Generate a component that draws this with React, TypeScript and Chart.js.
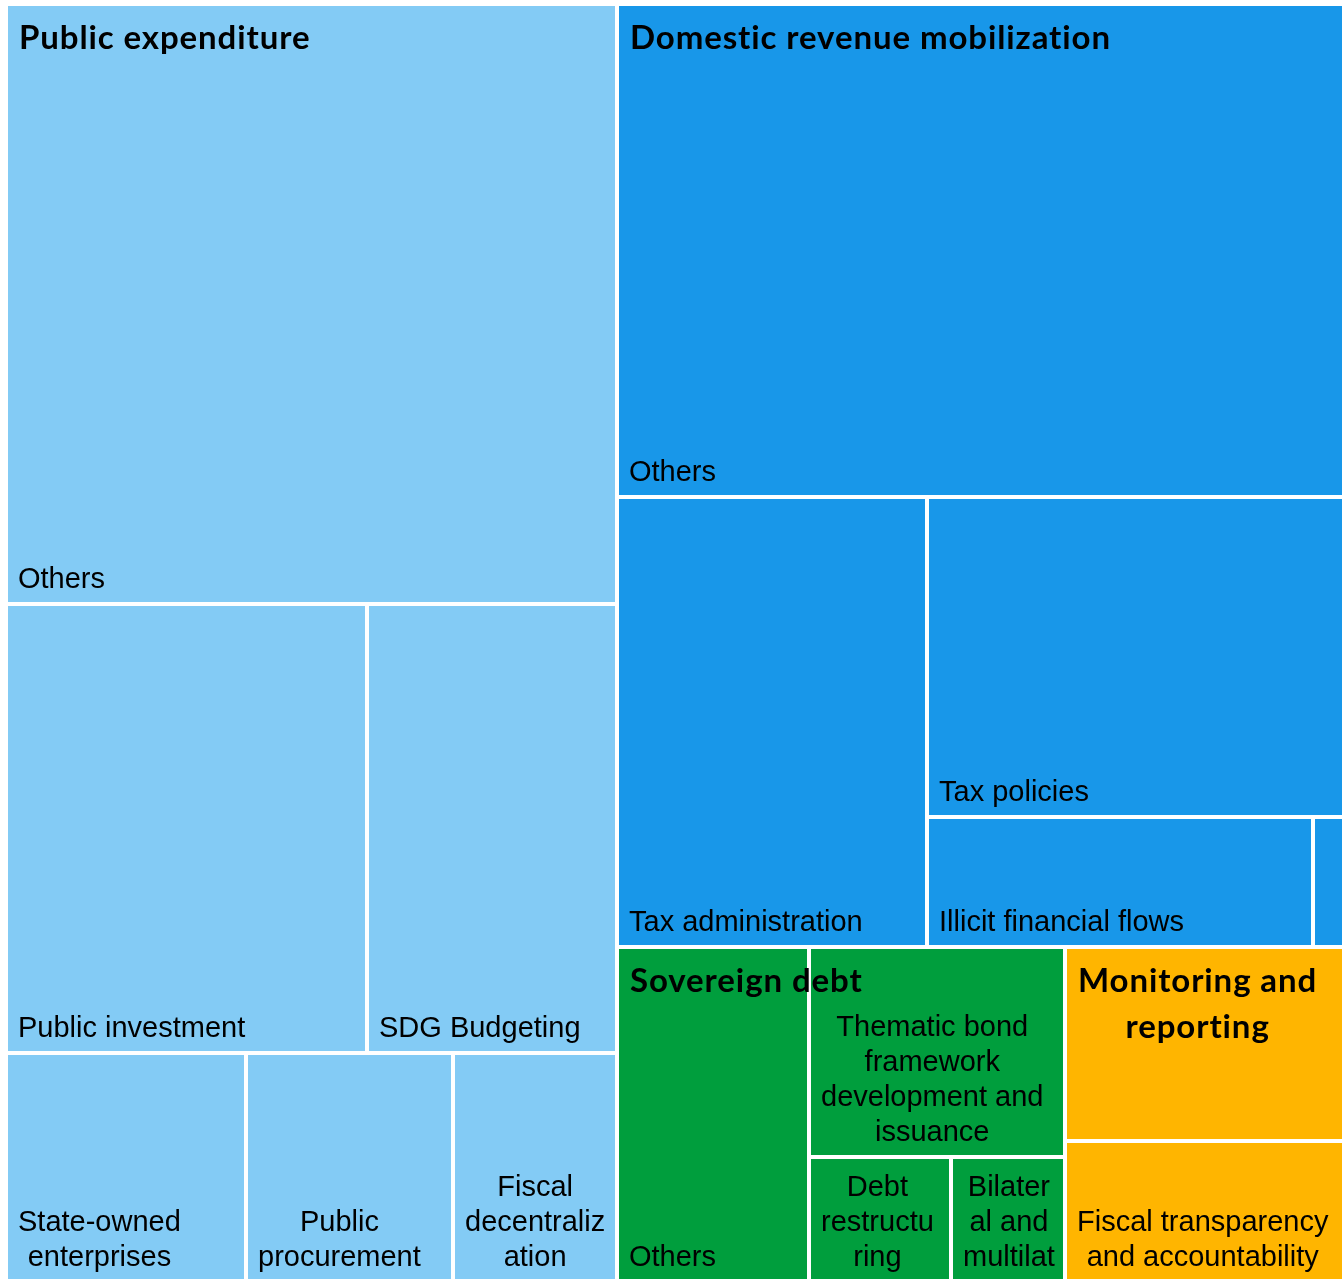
import React, { useEffect, useRef } from 'react';
import { Chart, registerables } from 'chart.js';

Chart.register(...registerables);

// ---- Data ----
const groupNames = [
  'Public expenditure',
  'Domestic revenue mobilization',
  'Sovereign debt',
  'Monitoring and reporting',
];
const groupColors = ['#83CBF5', '#1897E9', '#009E3D', '#FFB500'];

const publicExpenditureLabels = [
  'Others',
  'Public investment',
  'SDG Budgeting',
  'State-owned enterprises',
  'Public procurement',
  'Fiscal decentralization',
];
const publicExpenditureValues = [213.9, 94.9, 65.5, 32.0, 27.7, 21.9];

// last cell is too small in the reference for its label to be shown
const domesticRevenueLabels = [
  'Others',
  'Tax administration',
  'Tax policies',
  'Illicit financial flows',
  '',
];
const domesticRevenueValues = [209.9, 81.4, 78.2, 29.3, 2.5];

const sovereignDebtLabels = [
  'Others',
  'Thematic bond framework development and issuance',
  'Debt restructuring',
  'Bilateral and multilateral debt',
];
const sovereignDebtValues = [37.6, 31.4, 10.4, 8.3];

// first cell carries no sub-category label (the group label sits on it)
const monitoringLabels = ['', 'Fiscal transparency and accountability'];
const monitoringValues = [31.8, 23.2];

const childLabels = [
  publicExpenditureLabels,
  domesticRevenueLabels,
  sovereignDebtLabels,
  monitoringLabels,
];
const childValues = [
  publicExpenditureValues,
  domesticRevenueValues,
  sovereignDebtValues,
  monitoringValues,
];

// ---- Layout helpers ----
type R = { x: number; y: number; w: number; h: number };

const sum = (a: number[]) => a.reduce((s, v) => s + v, 0);

// Row-based treemap: tries every split of the (sorted) list into rows laid
// along the short side, keeping the one with the lowest area-weighted aspect.
function squarify(vals: number[], r: R): { cost: number; rects: R[] } {
  if (vals.length === 0) return { cost: 0, rects: [] };
  const total = sum(vals);
  let best: { cost: number; rects: R[] } | null = null;
  for (let k = 1; k <= vals.length; k++) {
    const row = vals.slice(0, k);
    const s = sum(row);
    const rects: R[] = [];
    let cost = 0;
    let rest: R;
    if (r.w >= r.h) {
      const cw = (r.w * s) / total;
      let yy = r.y;
      for (const v of row) {
        const hh = (r.h * v) / s;
        rects.push({ x: r.x, y: yy, w: cw, h: hh });
        cost += v * Math.max(cw / hh, hh / cw);
        yy += hh;
      }
      rest = { x: r.x + cw, y: r.y, w: r.w - cw, h: r.h };
    } else {
      const rh = (r.h * s) / total;
      let xx = r.x;
      for (const v of row) {
        const ww = (r.w * v) / s;
        rects.push({ x: xx, y: r.y, w: ww, h: rh });
        cost += v * Math.max(ww / rh, rh / ww);
        xx += ww;
      }
      rest = { x: r.x, y: r.y + rh, w: r.w, h: r.h - rh };
    }
    const sub = squarify(vals.slice(k), rest);
    cost += sub.cost;
    if (!best || cost < best.cost - 1e-9) best = { cost, rects: rects.concat(sub.rects) };
  }
  return best as { cost: number; rects: R[] };
}

function wrapText(ctx: CanvasRenderingContext2D, text: string, maxW: number): string[] {
  const words = text.split(' ');
  const lines: string[] = [];
  let cur = '';
  for (const word of words) {
    const test = cur ? cur + ' ' + word : word;
    if (ctx.measureText(test).width <= maxW) {
      cur = test;
      continue;
    }
    if (cur) lines.push(cur);
    let w = word;
    while (ctx.measureText(w).width > maxW && w.length > 1) {
      let i = 1;
      while (i < w.length && ctx.measureText(w.slice(0, i + 1)).width <= maxW) i++;
      lines.push(w.slice(0, i));
      w = w.slice(i);
    }
    cur = w;
  }
  if (cur) lines.push(cur);
  return lines;
}

const GAP = 2;
const CHILD_FONT = '29px "Liberation Sans", Arial, sans-serif';
const CHILD_LINE = 35;
const GROUP_FONT = 'bold 33px Lato, "Noto Sans", sans-serif';
const GROUP_SPACING = '0.9px';
const GROUP_LINE = 46;

const treemapPlugin = {
  id: 'treemapCells',
  beforeDatasetsDraw(chart: any) {
    const { ctx, chartArea, scales } = chart;
    const xs = scales.x;
    const ys = scales.y;
    const aspect = (chartArea.right - chartArea.left) / (chartArea.bottom - chartArea.top);
    const toPx = (r: R) => {
      const x0 = Math.round(xs.getPixelForValue(r.x / aspect));
      const x1 = Math.round(xs.getPixelForValue((r.x + r.w) / aspect));
      const y0 = Math.round(ys.getPixelForValue(r.y));
      const y1 = Math.round(ys.getPixelForValue(r.y + r.h));
      return {
        l: Math.min(x0, x1) + GAP,
        t: Math.min(y0, y1) + GAP,
        r: Math.max(x0, x1) - GAP,
        b: Math.max(y0, y1) - GAP,
      };
    };

    ctx.save();
    ctx.fillStyle = '#ffffff';
    ctx.fillRect(0, 0, chart.width, chart.height);

    const groupRects = squarify(childValues.map(sum), { x: 0, y: 0, w: aspect, h: 1 }).rects;

    // cells + child labels
    groupRects.forEach((gr, gi) => {
      const leaves = squarify(childValues[gi], gr).rects;
      leaves.forEach((lr, li) => {
        const p = toPx(lr);
        ctx.fillStyle = groupColors[gi];
        ctx.fillRect(p.l, p.t, p.r - p.l, p.b - p.t);

        const label = childLabels[gi][li];
        const avail = p.r - p.l - 16;
        if (!label || avail < 25) return;
        ctx.save();
        ctx.beginPath();
        ctx.rect(p.l, p.t, p.r - p.l, p.b - p.t);
        ctx.clip();
        ctx.font = CHILD_FONT;
        ctx.fillStyle = '#000000';
        ctx.textBaseline = 'alphabetic';
        ctx.textAlign = 'left';
        let lines = wrapText(ctx, label, avail);
        const maxLines = Math.max(1, Math.floor((p.b - p.t - 8) / CHILD_LINE));
        if (lines.length > maxLines) lines = lines.slice(0, maxLines);
        const blockW = Math.max(...lines.map((l) => ctx.measureText(l).width));
        const lastBase = p.b - 14;
        lines.forEach((line, i) => {
          const lw = ctx.measureText(line).width;
          const y = lastBase - (lines.length - 1 - i) * CHILD_LINE;
          ctx.fillText(line, p.l + 10 + (blockW - lw) / 2, y);
        });
        ctx.restore();
      });
    });

    // group labels on top
    groupRects.forEach((gr, gi) => {
      const p = toPx(gr);
      ctx.save();
      ctx.beginPath();
      ctx.rect(p.l, p.t, p.r - p.l, p.b - p.t);
      ctx.clip();
      ctx.font = GROUP_FONT;
      (ctx as any).letterSpacing = GROUP_SPACING;
      ctx.fillStyle = '#000000';
      ctx.textBaseline = 'alphabetic';
      ctx.textAlign = 'left';
      const lines = wrapText(ctx, groupNames[gi], p.r - p.l - 22);
      const blockW = Math.max(...lines.map((l) => ctx.measureText(l).width));
      lines.forEach((line, i) => {
        const lw = ctx.measureText(line).width;
        ctx.fillText(line, p.l + 11 + (blockW - lw) / 2, p.t + 43 + i * GROUP_LINE);
      });
      ctx.restore();
    });
    ctx.restore();
  },
};

export default function App() {
  const canvasRef = useRef<HTMLCanvasElement | null>(null);

  useEffect(() => {
    const canvas = canvasRef.current;
    if (!canvas) return;
    const chart = new Chart(canvas, {
      type: 'scatter',
      data: { datasets: [] },
      options: {
        animation: false,
        responsive: false,
        devicePixelRatio: 1,
        layout: { padding: { left: 6, top: 4, right: 4, bottom: 8 } },
        scales: {
          x: { type: 'linear', min: 0, max: 1, display: false },
          y: { type: 'linear', min: 0, max: 1, reverse: true, display: false },
        },
        plugins: {
          legend: { display: false },
          tooltip: { enabled: false },
          title: { display: false },
        },
      },
      plugins: [treemapPlugin],
    } as any);
    return () => chart.destroy();
  }, []);

  return (
    <div
      style={{
        position: 'fixed',
        left: 0,
        top: 0,
        width: '100vw',
        height: '100vh',
        overflow: 'hidden',
        background: '#ffffff',
      }}
    >
      <canvas
        ref={canvasRef}
        width={1350}
        height={1290}
        style={{ position: 'absolute', left: 0, top: 0, width: 1350, height: 1290 }}
      />
    </div>
  );
}
